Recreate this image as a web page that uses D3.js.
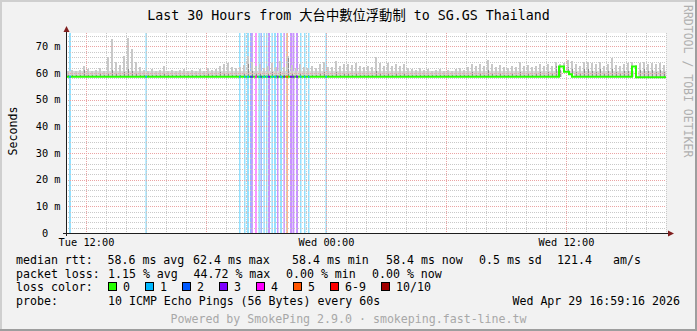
<!DOCTYPE html>
<html lang="en">
<head>
<meta charset="UTF-8">
<title>SmokePing - Last 30 Hours</title>
<script src="https://cdnjs.cloudflare.com/ajax/libs/d3/7.8.5/d3.min.js"></script>
<style>
  body { margin: 0; background: #f2f2f2; }
  svg { display: block; }
  text { font-family: "DejaVu Sans Mono", "Noto Sans CJK TC", monospace; }
</style>
</head>
<body>
<script>
  let w = 697;
  let h = 331;

  // time window: Tue 28 Apr 11:00 + 30 hours
  let startTime = new Date(2026, 3, 28, 11, 0, 0);
  let hours = 30;
  let yMax = 75;
  let yTickVals = [0, 10, 20, 30, 40, 50, 60, 70];

  let lossNames = ["0", "1", "2", "3", "4", "5", "6-9", "10/10"];
  let lossColors = ["#26ff00", "#00b8ff", "#0059ff", "#7e00ff", "#ff00ff", "#ff5500", "#ff0000", "#a10000"];

  // median rtt (ms), step values starting at hour offset
  let medianStart = [0, 24.65, 24.9, 25.15, 25.3, 28.3, 28.5];
  let medianVal = [58.6, 62.4, 60.5, 59.5, 58.6, 62.4, 58.4];

  // packet loss events: hour offset, duration (min), lost pings of 10
  let lossHour = [0.15, 3.97, 8.65, 8.9, 9.05, 9.2, 9.27, 9.45, 9.62, 9.72, 9.87, 10.0, 10.1, 10.27,
    10.4, 10.55, 10.7, 10.87, 11.0, 11.2, 11.32, 11.5, 11.7, 11.9, 12.1, 12.97];
  let lossMin = [6, 4, 3, 4, 6, 3, 4, 6, 4, 4, 4, 3, 6, 4, 6, 3, 6, 4, 6, 6, 6, 6, 4, 4, 4, 4];
  let lossCount = [1, 1, 1, 1, 1, 2, 3, 4, 1, 2, 1, 1, 3, 1, 1, 3, 1, 3, 5, 3, 3, 3, 1, 1, 1, 1];

  // smoke: 150 bins of 12 min, top of light smoke and of dark smoke (ms)
  let smokeMax = [
    60.8, 61.2, 60.6, 61.0, 62.6, 61.4, 60.7, 61.0, 61.8, 60.9,
    66.0, 72.6, 64.2, 63.0, 66.5, 73.0, 69.0, 64.0, 62.4, 61.2,
    60.8, 61.4, 60.7, 61.2, 62.5, 60.9, 61.3, 60.6, 61.0, 61.6,
    60.9, 61.3, 60.7, 61.5, 60.8, 61.8, 61.2, 61.6, 62.8, 63.4,
    63.6, 62.4, 61.8, 62.2, 63.0, 66.2, 64.0, 62.6, 63.4, 62.0,
    62.6, 63.8, 62.2, 64.6, 62.4, 66.4, 63.0, 62.0, 63.2, 62.4,
    61.8, 62.6, 62.0, 63.4, 64.0, 62.4, 62.2, 64.5, 62.8, 63.2,
    63.4, 63.0, 63.6, 62.6, 62.2, 62.8, 62.4, 66.0, 63.6, 62.8,
    63.6, 62.8, 63.2, 62.6, 63.4, 62.0, 61.6, 61.2, 61.8, 61.0,
    61.4, 60.8, 61.2, 61.6, 60.9, 61.3, 60.7, 61.5, 62.0, 61.2,
    62.4, 63.4, 62.6, 63.2, 62.8, 65.0, 63.4, 62.2, 63.0, 62.4,
    62.0, 62.8, 62.4, 64.2, 62.6, 63.0, 62.2, 62.8, 63.2, 62.6,
    63.4, 62.8, 64.0, 63.2, 63.8, 65.0, 64.6, 63.4, 62.8, 64.0,
    64.2, 63.6, 63.2, 64.0, 62.8, 63.4, 65.6, 63.0, 62.6, 63.4,
    63.6, 64.2, 63.0, 63.6, 64.0, 63.4, 63.8, 63.2, 63.6, 63.0
  ];
  let smokeDark = [
    59.2, 59.4, 59.2, 59.3, 61.0, 59.2, 59.2, 59.3, 59.8, 59.2,
    60.0, 61.2, 59.6, 59.2, 60.4, 61.6, 60.6, 59.6, 59.2, 59.2,
    59.2, 59.2, 59.2, 59.2, 59.8, 59.2, 59.2, 59.2, 59.2, 59.4,
    59.2, 59.2, 59.2, 59.4, 59.2, 59.6, 59.2, 59.4, 60.2, 59.8,
    60.0, 59.4, 59.2, 59.4, 59.8, 63.4, 60.6, 59.6, 60.0, 59.2,
    59.6, 60.2, 59.2, 60.4, 59.2, 65.8, 60.0, 59.2, 59.8, 59.2,
    59.2, 59.4, 59.2, 59.8, 60.2, 59.2, 59.2, 60.2, 59.4, 59.6,
    59.6, 59.2, 59.8, 59.2, 59.2, 59.4, 59.2, 60.8, 59.8, 59.2,
    59.8, 59.2, 59.6, 59.2, 59.8, 59.2, 59.2, 59.2, 59.4, 59.2,
    59.2, 59.2, 59.2, 59.4, 59.2, 59.2, 59.2, 59.4, 59.4, 59.2,
    59.4, 60.2, 59.4, 59.8, 59.2, 61.0, 59.8, 59.2, 59.6, 59.2,
    59.2, 59.6, 59.2, 60.2, 59.4, 59.8, 59.2, 59.6, 60.2, 59.4,
    60.4, 59.8, 62.6, 61.2, 60.6, 62.4, 61.6, 60.4, 59.8, 61.4,
    61.6, 60.8, 60.2, 61.4, 59.8, 60.6, 62.0, 60.2, 59.6, 60.6,
    60.6, 62.6, 60.4, 61.2, 61.4, 60.6, 61.0, 60.4, 61.2, 60.2
  ];

  // legend texts
  let rttLabels = ["58.6 ms avg", "62.4 ms max", "58.4 ms min", "58.4 ms now", "0.5 ms sd", "121.4", "am/s"];
  let rttX = [107.5, 193, 292, 386, 479, 557, 613];
  let lossLabels = ["1.15 % avg", "44.72 % max", "0.00 % min", "0.00 % now"];
  let lossX = [108, 193.5, 286, 372];
  let legendSqX = [108, 145, 182, 219, 256, 293, 330, 381];

  let plotL = 66, plotR = 666, plotT = 33, plotB = 233;
  let hourMs = 3600 * 1000;
  let toTime = function (hr) { return new Date(startTime.getTime() + hr * hourMs) };

  let x = d3.scaleTime().domain([startTime, toTime(hours)]).range([plotL, plotR]);
  let y = d3.scaleLinear().domain([0, yMax]).range([plotB, plotT]);

  let medianAt = function (hr) {
    let i = Math.max(0, d3.bisectRight(medianStart, hr) - 1);
    return medianVal[i];
  };
  let lossIdx = function (n) { return n <= 5 ? n : (n < 10 ? 6 : 7) };

  let svg = d3.select("body").append("svg").attr("width", w).attr("height", h);

  // background and 3d frame
  svg.append("rect").attr("width", w).attr("height", h).attr("fill", "#f2f2f2");
  svg.append("rect").attr("x", 0).attr("y", 0).attr("width", w).attr("height", 2).attr("fill", "#cfcfcf");
  svg.append("rect").attr("x", 0).attr("y", 0).attr("width", 2).attr("height", h).attr("fill", "#cfcfcf");
  svg.append("rect").attr("x", 0).attr("y", h - 2).attr("width", w).attr("height", 2).attr("fill", "#9e9e9e");
  svg.append("rect").attr("x", w - 2).attr("y", 0).attr("width", 2).attr("height", h).attr("fill", "#9e9e9e");

  // canvas
  svg.append("rect").attr("x", plotL).attr("y", plotT).attr("width", plotR - plotL).attr("height", plotB - plotT)
    .attr("fill", "#ffffff");

  // loss background stripes
  let stripes = lossHour.map(function (hr, i) { return { hr: hr, dur: lossMin[i] / 60, n: lossCount[i] } });
  svg.append("g").selectAll("rect").data(stripes).enter().append("rect")
    .attr("x", function (d) { return x(toTime(d.hr)) })
    .attr("width", function (d) { return Math.max(1.5, x(toTime(d.hr + d.dur)) - x(toTime(d.hr))) })
    .attr("y", plotT).attr("height", plotB - plotT)
    .attr("fill", function (d) { return lossColors[lossIdx(d.n)] })
    .attr("opacity", 0.42);

  // smoke
  let binH = hours / smokeMax.length;
  let bins = smokeMax.map(function (v, i) { return { hr: i * binH, max: v, dark: smokeDark[i] } });
  let smoke = svg.append("g").attr("shape-rendering", "crispEdges");
  let bx = function (d) { return x(toTime(d.hr)) };
  let bw = x(toTime(binH)) - x(startTime);
  smoke.selectAll(".base").data(bins).enter().append("rect")
    .attr("x", bx).attr("width", bw)
    .attr("y", function (d) { return y(Math.min(d.max, 60.9)) })
    .attr("height", function (d) { return y(medianAt(d.hr)) - y(Math.min(d.max, 60.9)) })
    .attr("fill", "#d8d8d8");
  smoke.selectAll(".spike").data(bins).enter().append("rect")
    .attr("x", function (d) { return bx(d) + 1 }).attr("width", 2)
    .attr("y", function (d) { return y(d.max) })
    .attr("height", function (d) { return y(medianAt(d.hr)) - y(d.max) })
    .attr("fill", "#c8c8c8");
  smoke.selectAll(".dark").data(bins).enter().append("rect")
    .attr("x", function (d) { return bx(d) + 2 }).attr("width", 1)
    .attr("y", function (d) { return y(d.dark) })
    .attr("height", function (d) { return y(medianAt(d.hr)) - y(d.dark) })
    .attr("fill", "#8e8e8e");

  // grid
  let grid = svg.append("g").attr("shape-rendering", "crispEdges").attr("stroke-dasharray", "1,1");
  let hourTicks = x.ticks(d3.timeHour.every(1));
  let minorX = hourTicks.filter(function (t) { return t.getHours() % 6 !== 0 });
  let majorX = hourTicks.filter(function (t) { return t.getHours() % 6 === 0 });
  let minorY = d3.range(2, yMax, 2).filter(function (v) { return v % 10 !== 0 });
  let majorY = yTickVals.filter(function (v) { return v > 0 });
  let px = function (t) { return Math.round(x(t)) + 0.5 };
  let py = function (v) { return Math.round(y(v)) + 0.5 };

  grid.selectAll(".vx").data(minorX).enter().append("line")
    .attr("x1", px).attr("x2", px).attr("y1", plotT).attr("y2", plotB)
    .attr("stroke", "#c9c9c9");
  grid.selectAll(".hy").data(minorY).enter().append("line")
    .attr("x1", plotL).attr("x2", plotR).attr("y1", py).attr("y2", py)
    .attr("stroke", "#c9c9c9");
  grid.selectAll(".mx").data(majorX).enter().append("line")
    .attr("x1", px).attr("x2", px).attr("y1", plotT).attr("y2", plotB)
    .attr("stroke", "#eba4a4");
  grid.selectAll(".my").data(majorY).enter().append("line")
    .attr("x1", plotL).attr("x2", plotR).attr("y1", py).attr("y2", py)
    .attr("stroke", "#eba4a4");

  // median line
  let medPts = medianStart.map(function (hr, i) { return { hr: hr, v: medianVal[i] } });
  medPts.push({ hr: hours, v: medianVal[medianVal.length - 1] });
  let medLine = d3.line()
    .x(function (d) { return x(toTime(d.hr)) })
    .y(function (d) { return y(d.v) })
    .curve(d3.curveStepAfter);
  svg.append("path").datum(medPts).attr("d", medLine)
    .attr("fill", "none").attr("stroke", lossColors[0]).attr("stroke-width", 2);

  // median coloured by loss
  svg.append("g").selectAll("line").data(stripes).enter().append("line")
    .attr("x1", function (d) { return x(toTime(d.hr)) })
    .attr("x2", function (d) { return Math.max(x(toTime(d.hr)) + 1.5, x(toTime(d.hr + d.dur))) })
    .attr("y1", function (d) { return y(medianAt(d.hr)) })
    .attr("y2", function (d) { return y(medianAt(d.hr)) })
    .attr("stroke", function (d) { return lossColors[lossIdx(d.n)] })
    .attr("stroke-width", 2);

  // axes lines and arrows
  let axisG = svg.append("g").attr("shape-rendering", "crispEdges");
  axisG.append("line").attr("x1", plotL + 0.5).attr("x2", plotL + 0.5).attr("y1", plotB + 3).attr("y2", plotT - 2)
    .attr("stroke", "#1f1f1f");
  axisG.append("line").attr("x1", plotL - 3).attr("x2", plotR + 3).attr("y1", plotB + 0.5).attr("y2", plotB + 0.5)
    .attr("stroke", "#1f1f1f");
  svg.append("path").attr("d", "M66.5,26 L63.5,32 L69.5,32 Z").attr("fill", "#801f1f");
  svg.append("path").attr("d", "M674,233.5 L668,230.5 L668,236.5 Z").attr("fill", "#801f1f");

  // axis labels
  let yAxis = d3.axisLeft(y).tickValues(yTickVals).tickSize(0).tickPadding(5.5)
    .tickFormat(function (d) { return d ? d + " m" : "0\u00a0\u00a0" });
  let gy = svg.append("g").attr("transform", "translate(" + plotL + ",0)").call(yAxis);
  gy.select(".domain").remove();
  gy.selectAll("text").attr("font-family", "DejaVu Sans Mono").attr("font-size", "10.3px").attr("fill", "#000");

  let xAxis = d3.axisBottom(x).ticks(d3.timeHour.every(12)).tickSize(0).tickPadding(5.5)
    .tickFormat(d3.timeFormat("%a %H:%M"));
  let gx = svg.append("g").attr("transform", "translate(0," + plotB + ")").call(xAxis);
  gx.select(".domain").remove();
  gx.selectAll("text").attr("font-family", "DejaVu Sans Mono").attr("font-size", "10.3px").attr("fill", "#000");

  // title and side texts
  svg.append("text").text("Last 30 Hours from 大台中數位浮動制 to SG.GS Thailand")
    .attr("x", 348.5).attr("y", 19.5).attr("text-anchor", "middle")
    .attr("font-size", "13.3px").attr("fill", "#000");
  svg.append("text").text("Seconds")
    .attr("transform", "translate(16.5,131) rotate(-90)").attr("text-anchor", "middle")
    .attr("font-size", "11.6px").attr("fill", "#000");
  svg.append("text").text("RRDTOOL / TOBI OETIKER")
    .attr("transform", "translate(684,5) rotate(90)").attr("text-anchor", "start")
    .attr("font-size", "11.5px").attr("fill", "#b0b0b0");

  // legend
  let legend = svg.append("g").attr("font-size", "11.6px").attr("fill", "#000");
  legend.append("text").text("median rtt:").attr("x", 16).attr("y", 264);
  legend.selectAll(".rtt").data(rttLabels).enter().append("text")
    .text(function (d) { return d }).attr("x", function (d, i) { return rttX[i] }).attr("y", 264);
  legend.append("text").text("packet loss:").attr("x", 16).attr("y", 277.5);
  legend.selectAll(".loss").data(lossLabels).enter().append("text")
    .text(function (d) { return d }).attr("x", function (d, i) { return lossX[i] }).attr("y", 277.5);
  legend.append("text").text("loss color:").attr("x", 16).attr("y", 291);
  legend.selectAll(".sq").data(lossNames).enter().append("rect")
    .attr("x", function (d, i) { return legendSqX[i] + 0.5 }).attr("y", 282.5)
    .attr("width", 8).attr("height", 8)
    .attr("fill", function (d, i) { return lossColors[i] })
    .attr("stroke", "#000").attr("stroke-width", 1);
  legend.selectAll(".sqt").data(lossNames).enter().append("text")
    .text(function (d) { return d }).attr("x", function (d, i) { return legendSqX[i] + 15 }).attr("y", 291);
  legend.append("text").text("probe:").attr("x", 16).attr("y", 304.5);
  legend.append("text").text("10 ICMP Echo Pings (56 Bytes) every 60s").attr("x", 108).attr("y", 304.5);
  legend.append("text").text("Wed Apr 29 16:59:16 2026").attr("x", 680).attr("y", 304.5)
    .attr("text-anchor", "end");

  svg.append("text").text("Powered by SmokePing 2.9.0 · smokeping.fast-line.tw")
    .attr("x", 348.5).attr("y", 322.5).attr("text-anchor", "middle")
    .attr("font-size", "11.6px").attr("fill", "#a8a8a8");
</script>
</body>
</html>
